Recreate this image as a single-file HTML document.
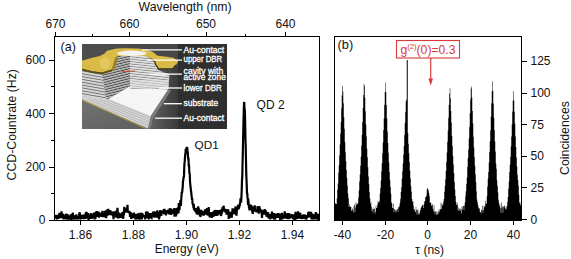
<!DOCTYPE html>
<html><head><meta charset="utf-8">
<style>
html,body{margin:0;padding:0;background:#fff;width:571px;height:259px;overflow:hidden}
svg{display:block}
text{font-family:"Liberation Sans",sans-serif;fill:#111}
</style></head>
<body>
<svg width="571" height="259" viewBox="0 0 571 259">
<defs>
  <clipPath id="insetclip"><rect x="82" y="44" width="145" height="85"/></clipPath>
  <clipPath id="lclip"><rect x="55" y="37" width="264" height="183"/></clipPath>
  <clipPath id="rclip"><rect x="335" y="37" width="186" height="183"/></clipPath>
  <linearGradient id="floorg" x1="0" y1="0" x2="1" y2="1">
    <stop offset="0" stop-color="#727272"/><stop offset="1" stop-color="#5e5e5e"/>
  </linearGradient>
  <linearGradient id="topbg" x1="0" y1="0" x2="1" y2="0">
    <stop offset="0" stop-color="#4e4e4e"/><stop offset="1" stop-color="#424242"/>
  </linearGradient>
  <pattern id="stripeL" width="6" height="2.8" patternUnits="userSpaceOnUse" patternTransform="rotate(10)">
    <rect width="6" height="2.8" fill="#d6d6d6"/><rect y="1.9" width="6" height="0.9" fill="#707070"/>
  </pattern>
  <pattern id="stripeD" width="6" height="2.4" patternUnits="userSpaceOnUse" patternTransform="rotate(-14)">
    <rect width="6" height="2.4" fill="#c4c4c4"/><rect y="1.4" width="6" height="1" fill="#484848"/>
  </pattern>
  <linearGradient id="rshade" x1="0" y1="0" x2="1" y2="0">
    <stop offset="0" stop-color="#666666"/><stop offset="1" stop-color="#3a3a3a"/>
  </linearGradient>
  <pattern id="stripeF" width="6" height="2.2" patternUnits="userSpaceOnUse" patternTransform="rotate(22)">
    <rect width="6" height="2.2" fill="#d6d6d6"/><rect y="1.4" width="6" height="0.8" fill="#b4b4b4"/>
  </pattern>
  <pattern id="stripeW" width="6" height="2.4" patternUnits="userSpaceOnUse" patternTransform="rotate(6)">
    <rect width="6" height="2.4" fill="#e8e8e8"/><rect y="1.5" width="6" height="0.9" fill="#8a8a8a"/>
  </pattern>
</defs>

<!-- ===== LEFT PLOT ===== -->
<g clip-path="url(#lclip)">
  <polyline points="55.00,217.2 55.25,217.9 55.50,216.5 55.75,215.1 56.00,216.1 56.25,214.9 56.50,217.3 56.75,219.5 57.00,216.0 57.25,215.7 57.50,218.3 57.75,218.0 58.00,217.4 58.25,215.0 58.50,217.1 58.75,218.8 59.00,214.1 59.25,216.1 59.50,212.8 59.75,214.2 60.00,212.9 60.25,216.6 60.50,214.2 60.75,217.8 61.00,217.5 61.25,216.7 61.50,211.4 61.75,215.9 62.00,217.0 62.25,217.4 62.50,213.6 62.75,216.1 63.00,214.9 63.25,215.3 63.50,219.5 63.75,215.3 64.00,217.1 64.25,219.2 64.50,215.8 64.75,216.9 65.00,217.4 65.25,217.3 65.50,214.3 65.75,217.3 66.00,219.5 66.25,213.6 66.50,219.1 66.75,217.4 67.00,215.7 67.25,219.5 67.50,218.9 67.75,214.4 68.00,217.3 68.25,218.5 68.50,216.7 68.75,218.7 69.00,217.0 69.25,218.7 69.50,219.5 69.75,215.6 70.00,217.6 70.25,216.1 70.50,217.4 70.75,214.4 71.00,215.8 71.25,216.7 71.50,219.2 71.75,219.5 72.00,214.1 72.25,215.3 72.50,218.6 72.75,212.5 73.00,216.1 73.25,216.9 73.50,219.5 73.75,218.7 74.00,216.4 74.25,216.3 74.50,216.5 74.75,219.5 75.00,216.1 75.25,216.4 75.50,217.9 75.75,216.8 76.00,216.6 76.25,214.5 76.50,217.1 76.75,216.1 77.00,219.5 77.25,218.6 77.50,217.0 77.75,218.6 78.00,216.3 78.25,219.5 78.50,217.1 78.75,218.4 79.00,214.1 79.25,217.9 79.50,213.2 79.75,212.4 80.00,216.3 80.25,215.0 80.50,217.4 80.75,219.5 81.00,215.1 81.25,215.6 81.50,217.5 81.75,218.1 82.00,216.6 82.25,216.5 82.50,218.6 82.75,218.2 83.00,214.6 83.25,216.8 83.50,217.0 83.75,214.5 84.00,217.5 84.25,214.9 84.50,219.1 84.75,217.3 85.00,217.1 85.25,215.5 85.50,216.6 85.75,212.2 86.00,214.2 86.25,217.6 86.50,211.9 86.75,218.7 87.00,212.7 87.25,218.4 87.50,214.7 87.75,218.4 88.00,216.9 88.25,213.1 88.50,219.4 88.75,219.5 89.00,216.4 89.25,215.8 89.50,216.1 89.75,214.2 90.00,218.9 90.25,215.1 90.50,216.2 90.75,214.4 91.00,214.8 91.25,213.3 91.50,219.0 91.75,215.8 92.00,218.3 92.25,216.1 92.50,214.4 92.75,215.2 93.00,214.6 93.25,215.9 93.50,214.9 93.75,215.1 94.00,212.5 94.25,213.8 94.50,219.4 94.75,214.0 95.00,213.1 95.25,216.2 95.50,218.6 95.75,212.0 96.00,214.8 96.25,213.8 96.50,211.1 96.75,216.8 97.00,215.0 97.25,215.2 97.50,213.2 97.75,215.9 98.00,213.6 98.25,214.4 98.50,212.2 98.75,211.9 99.00,217.7 99.25,213.4 99.50,215.2 99.75,214.4 100.00,213.4 100.25,213.2 100.50,215.7 100.75,213.6 101.00,213.9 101.25,214.2 101.50,216.8 101.75,215.6 102.00,214.9 102.25,212.7 102.50,210.8 102.75,216.1 103.00,216.1 103.25,213.5 103.50,215.1 103.75,215.6 104.00,215.7 104.25,215.9 104.50,212.7 104.75,217.2 105.00,210.9 105.25,215.7 105.50,214.8 105.75,215.7 106.00,218.0 106.25,217.1 106.50,211.1 106.75,209.8 107.00,215.6 107.25,211.4 107.50,213.7 107.75,215.7 108.00,210.0 108.25,208.9 108.50,214.4 108.75,213.9 109.00,213.3 109.25,213.9 109.50,211.9 109.75,210.4 110.00,213.6 110.25,211.7 110.50,210.2 110.75,215.2 111.00,213.9 111.25,215.1 111.50,211.9 111.75,212.7 112.00,211.9 112.25,212.2 112.50,214.8 112.75,212.6 113.00,215.2 113.25,215.3 113.50,219.2 113.75,211.4 114.00,216.7 114.25,214.5 114.50,214.7 114.75,211.4 115.00,213.8 115.25,216.6 115.50,214.7 115.75,215.2 116.00,214.3 116.25,217.7 116.50,215.1 116.75,210.1 117.00,213.6 117.25,210.7 117.50,207.8 117.75,214.1 118.00,218.5 118.25,215.5 118.50,212.8 118.75,213.3 119.00,218.1 119.25,215.9 119.50,215.7 119.75,215.5 120.00,215.8 120.25,217.5 120.50,217.0 120.75,216.2 121.00,213.3 121.25,216.8 121.50,214.0 121.75,218.0 122.00,212.5 122.25,214.9 122.50,215.1 122.75,211.8 123.00,218.6 123.25,217.7 123.50,212.9 123.75,215.4 124.00,214.1 124.25,206.7 124.50,212.8 124.75,211.6 125.00,211.4 125.25,208.3 125.50,209.7 125.75,209.5 126.00,212.2 126.25,210.0 126.50,209.0 126.75,212.4 127.00,207.5 127.25,208.0 127.50,204.8 127.75,212.8 128.00,211.8 128.25,212.0 128.50,211.9 128.75,211.1 129.00,211.9 129.25,211.3 129.50,211.9 129.75,213.0 130.00,216.9 130.25,215.1 130.50,214.1 130.75,213.2 131.00,213.4 131.25,218.9 131.50,216.6 131.75,215.7 132.00,215.0 132.25,213.3 132.50,215.8 132.75,218.1 133.00,215.2 133.25,215.6 133.50,215.7 133.75,216.5 134.00,212.6 134.25,215.7 134.50,214.3 134.75,218.3 135.00,214.5 135.25,217.6 135.50,219.5 135.75,215.5 136.00,214.8 136.25,216.7 136.50,216.2 136.75,213.9 137.00,217.3 137.25,219.5 137.50,215.6 137.75,215.7 138.00,213.8 138.25,216.9 138.50,213.3 138.75,213.6 139.00,219.1 139.25,214.0 139.50,218.6 139.75,219.5 140.00,216.7 140.25,217.4 140.50,219.5 140.75,215.6 141.00,214.7 141.25,212.9 141.50,216.1 141.75,219.4 142.00,218.2 142.25,213.9 142.50,214.0 142.75,214.8 143.00,216.7 143.25,215.5 143.50,216.5 143.75,216.6 144.00,215.3 144.25,215.8 144.50,216.4 144.75,215.7 145.00,217.1 145.25,219.5 145.50,217.3 145.75,216.0 146.00,212.0 146.25,216.8 146.50,211.4 146.75,212.6 147.00,217.8 147.25,217.4 147.50,215.5 147.75,211.9 148.00,214.9 148.25,214.2 148.50,217.2 148.75,219.5 149.00,216.2 149.25,213.9 149.50,213.0 149.75,215.6 150.00,215.3 150.25,213.0 150.50,215.9 150.75,213.0 151.00,218.2 151.25,218.0 151.50,218.1 151.75,214.5 152.00,216.7 152.25,215.2 152.50,214.6 152.75,214.7 153.00,212.5 153.25,212.1 153.50,217.2 153.75,214.9 154.00,215.8 154.25,217.6 154.50,211.3 154.75,213.4 155.00,215.6 155.25,216.1 155.50,214.3 155.75,217.4 156.00,215.5 156.25,212.2 156.50,212.8 156.75,216.7 157.00,215.9 157.25,210.4 157.50,217.8 157.75,216.0 158.00,217.6 158.25,213.6 158.50,213.7 158.75,211.7 159.00,219.5 159.25,213.8 159.50,217.7 159.75,212.5 160.00,214.3 160.25,210.0 160.50,212.8 160.75,215.9 161.00,210.6 161.25,215.9 161.50,214.1 161.75,210.8 162.00,212.0 162.25,212.0 162.50,212.9 162.75,211.6 163.00,210.9 163.25,212.0 163.50,210.3 163.75,209.6 164.00,212.4 164.25,214.4 164.50,208.8 164.75,212.3 165.00,210.8 165.25,210.0 165.50,214.1 165.75,210.9 166.00,215.5 166.25,210.3 166.50,212.9 166.75,211.5 167.00,210.3 167.25,213.4 167.50,211.7 167.75,213.4 168.00,211.9 168.25,209.6 168.50,211.9 168.75,212.2 169.00,214.3 169.25,210.1 169.50,212.1 169.75,208.3 170.00,213.8 170.25,209.8 170.50,208.2 170.75,212.2 171.00,214.9 171.25,208.9 171.50,209.9 171.75,210.7 172.00,209.9 172.25,213.4 172.50,210.7 172.75,210.9 173.00,213.9 173.25,210.8 173.50,213.5 173.75,210.3 174.00,209.7 174.25,208.2 174.50,216.7 174.75,211.6 175.00,212.9 175.25,212.2 175.50,212.6 175.75,212.2 176.00,216.4 176.25,209.5 176.50,208.2 176.75,209.3 177.00,208.4 177.25,213.1 177.50,213.0 177.75,208.7 178.00,207.4 178.25,209.5 178.50,213.1 178.75,203.0 179.00,210.2 179.25,205.9 179.50,210.2 179.75,204.5 180.00,205.5 180.25,201.7 180.50,201.8 180.75,206.0 181.00,203.2 181.25,198.8 181.50,196.0 181.75,191.7 182.00,193.0 182.25,191.6 182.50,188.9 182.75,186.3 183.00,181.1 183.25,180.5 183.50,177.5 183.75,177.4 184.00,175.4 184.25,167.6 184.50,162.9 184.75,161.4 185.00,157.1 185.25,154.1 185.50,153.2 185.75,148.9 186.00,151.1 186.25,148.4 186.50,148.7 186.75,147.7 187.00,147.1 187.25,147.8 187.50,151.1 187.75,152.5 188.00,156.8 188.25,159.0 188.50,158.9 188.75,165.3 189.00,165.3 189.25,170.2 189.50,174.2 189.75,173.2 190.00,181.3 190.25,184.3 190.50,186.4 190.75,188.4 191.00,191.0 191.25,191.9 191.50,195.6 191.75,196.8 192.00,200.0 192.25,198.5 192.50,203.2 192.75,204.2 193.00,204.7 193.25,204.9 193.50,208.1 193.75,203.7 194.00,209.2 194.25,209.3 194.50,209.8 194.75,210.5 195.00,208.5 195.25,209.7 195.50,212.0 195.75,211.8 196.00,211.5 196.25,207.7 196.50,212.6 196.75,214.2 197.00,213.9 197.25,212.3 197.50,208.3 197.75,214.1 198.00,211.7 198.25,206.3 198.50,213.1 198.75,208.8 199.00,209.4 199.25,210.9 199.50,215.4 199.75,211.7 200.00,213.2 200.25,216.7 200.50,216.3 200.75,212.5 201.00,212.2 201.25,209.9 201.50,211.2 201.75,213.9 202.00,213.8 202.25,213.2 202.50,215.3 202.75,211.2 203.00,212.9 203.25,214.7 203.50,214.4 203.75,215.6 204.00,214.1 204.25,212.5 204.50,214.0 204.75,210.9 205.00,209.5 205.25,214.6 205.50,213.1 205.75,214.0 206.00,209.4 206.25,212.5 206.50,211.9 206.75,211.4 207.00,208.2 207.25,212.6 207.50,215.4 207.75,214.3 208.00,212.0 208.25,213.4 208.50,215.2 208.75,207.1 209.00,213.2 209.25,214.7 209.50,215.0 209.75,217.4 210.00,216.1 210.25,214.2 210.50,214.2 210.75,215.3 211.00,212.3 211.25,213.4 211.50,215.6 211.75,218.0 212.00,213.2 212.25,213.4 212.50,214.0 212.75,216.6 213.00,213.5 213.25,216.9 213.50,211.3 213.75,213.1 214.00,213.1 214.25,215.4 214.50,216.0 214.75,210.1 215.00,211.5 215.25,214.3 215.50,212.0 215.75,210.0 216.00,215.9 216.25,214.6 216.50,214.6 216.75,212.4 217.00,215.8 217.25,212.8 217.50,215.8 217.75,211.1 218.00,211.1 218.25,213.4 218.50,211.2 218.75,214.2 219.00,213.1 219.25,210.2 219.50,212.3 219.75,211.1 220.00,213.8 220.25,210.0 220.50,210.2 220.75,213.7 221.00,215.9 221.25,215.1 221.50,210.4 221.75,210.6 222.00,213.5 222.25,209.5 222.50,207.4 222.75,209.9 223.00,210.6 223.25,207.7 223.50,205.9 223.75,206.5 224.00,211.4 224.25,208.3 224.50,209.9 224.75,210.9 225.00,212.1 225.25,210.1 225.50,212.3 225.75,209.3 226.00,210.7 226.25,209.4 226.50,214.6 226.75,212.1 227.00,210.7 227.25,211.7 227.50,212.1 227.75,214.4 228.00,209.2 228.25,210.6 228.50,212.1 228.75,218.9 229.00,215.3 229.25,212.9 229.50,214.8 229.75,217.9 230.00,212.6 230.25,212.3 230.50,215.9 230.75,214.2 231.00,214.6 231.25,211.9 231.50,217.4 231.75,216.9 232.00,214.2 232.25,214.4 232.50,208.2 232.75,214.2 233.00,212.2 233.25,213.6 233.50,214.1 233.75,211.7 234.00,208.5 234.25,213.2 234.50,210.5 234.75,211.3 235.00,210.6 235.25,211.1 235.50,206.4 235.75,214.4 236.00,212.0 236.25,213.8 236.50,215.6 236.75,210.9 237.00,206.5 237.25,208.3 237.50,207.3 237.75,208.6 238.00,209.6 238.25,204.5 238.50,209.4 238.75,204.7 239.00,208.3 239.25,206.8 239.50,205.6 239.75,205.4 240.00,203.3 240.25,202.1 240.50,198.3 240.75,200.4 241.00,202.6 241.25,200.2 241.50,195.1 241.75,189.1 242.00,180.1 242.25,177.7 242.50,165.5 242.75,155.3 243.00,143.6 243.25,132.9 243.50,120.6 243.75,112.1 244.00,103.2 244.25,102.0 244.50,109.4 244.75,109.1 245.00,117.1 245.25,129.4 245.50,141.3 245.75,148.6 246.00,161.3 246.25,173.3 246.50,179.7 246.75,185.7 247.00,194.1 247.25,192.9 247.50,197.6 247.75,198.6 248.00,205.0 248.25,198.6 248.50,202.7 248.75,204.0 249.00,207.5 249.25,208.1 249.50,210.5 249.75,204.2 250.00,210.0 250.25,208.0 250.50,207.5 250.75,210.5 251.00,207.4 251.25,204.9 251.50,209.0 251.75,206.5 252.00,208.6 252.25,211.0 252.50,210.9 252.75,213.9 253.00,209.8 253.25,206.7 253.50,208.5 253.75,208.1 254.00,207.4 254.25,211.1 254.50,208.6 254.75,205.4 255.00,211.5 255.25,209.6 255.50,210.6 255.75,210.0 256.00,211.1 256.25,209.7 256.50,212.4 256.75,210.6 257.00,210.5 257.25,210.5 257.50,206.2 257.75,209.2 258.00,209.1 258.25,210.2 258.50,206.7 258.75,213.6 259.00,210.2 259.25,207.3 259.50,206.3 259.75,209.7 260.00,210.3 260.25,209.0 260.50,211.1 260.75,209.6 261.00,212.5 261.25,209.8 261.50,211.6 261.75,214.1 262.00,218.0 262.25,209.9 262.50,211.4 262.75,210.7 263.00,214.6 263.25,210.4 263.50,212.1 263.75,213.3 264.00,211.3 264.25,211.5 264.50,212.7 264.75,209.1 265.00,210.8 265.25,213.3 265.50,214.7 265.75,214.0 266.00,210.5 266.25,213.6 266.50,216.6 266.75,216.1 267.00,214.7 267.25,212.9 267.50,216.4 267.75,213.7 268.00,212.4 268.25,213.3 268.50,218.5 268.75,215.7 269.00,217.9 269.25,214.2 269.50,217.5 269.75,214.0 270.00,215.0 270.25,219.5 270.50,217.2 270.75,214.3 271.00,215.3 271.25,216.2 271.50,218.3 271.75,214.4 272.00,211.5 272.25,214.9 272.50,215.6 272.75,215.8 273.00,218.6 273.25,216.3 273.50,217.5 273.75,213.1 274.00,217.6 274.25,219.5 274.50,217.4 274.75,216.3 275.00,216.0 275.25,219.5 275.50,213.6 275.75,215.5 276.00,216.8 276.25,217.5 276.50,214.7 276.75,216.5 277.00,215.1 277.25,216.1 277.50,215.5 277.75,213.2 278.00,215.8 278.25,217.8 278.50,213.6 278.75,215.3 279.00,217.4 279.25,213.4 279.50,216.3 279.75,213.5 280.00,218.5 280.25,219.5 280.50,219.5 280.75,215.4 281.00,217.6 281.25,216.2 281.50,216.2 281.75,219.5 282.00,212.9 282.25,218.4 282.50,215.9 282.75,219.2 283.00,216.4 283.25,214.5 283.50,216.7 283.75,217.7 284.00,216.1 284.25,217.2 284.50,214.9 284.75,211.2 285.00,218.1 285.25,217.7 285.50,216.4 285.75,216.3 286.00,218.5 286.25,215.1 286.50,214.5 286.75,215.7 287.00,218.9 287.25,213.0 287.50,218.9 287.75,214.7 288.00,213.6 288.25,219.1 288.50,216.0 288.75,213.2 289.00,215.4 289.25,218.3 289.50,218.9 289.75,215.2 290.00,217.2 290.25,217.9 290.50,214.8 290.75,217.1 291.00,216.2 291.25,215.0 291.50,215.1 291.75,216.4 292.00,216.3 292.25,215.0 292.50,215.3 292.75,218.9 293.00,216.8 293.25,218.3 293.50,219.1 293.75,217.7 294.00,219.5 294.25,214.4 294.50,218.2 294.75,215.6 295.00,219.5 295.25,219.5 295.50,211.9 295.75,214.1 296.00,217.9 296.25,218.2 296.50,218.1 296.75,216.2 297.00,217.4 297.25,217.9 297.50,216.2 297.75,218.8 298.00,211.2 298.25,217.9 298.50,214.0 298.75,218.6 299.00,215.9 299.25,214.4 299.50,217.3 299.75,214.3 300.00,214.3 300.25,212.8 300.50,216.4 300.75,217.6 301.00,218.8 301.25,216.1 301.50,218.9 301.75,216.5 302.00,216.3 302.25,217.8 302.50,218.9 302.75,215.7 303.00,215.9 303.25,216.1 303.50,216.7 303.75,214.4 304.00,218.9 304.25,215.6 304.50,217.6 304.75,214.6 305.00,217.4 305.25,217.4 305.50,215.6 305.75,219.5 306.00,217.4 306.25,219.5 306.50,218.8 306.75,215.0 307.00,215.7 307.25,217.6 307.50,216.7 307.75,216.7 308.00,215.9 308.25,212.4 308.50,216.1 308.75,211.5 309.00,217.4 309.25,214.9 309.50,214.9 309.75,216.1 310.00,217.2 310.25,213.3 310.50,212.6 310.75,214.2 311.00,211.9 311.25,214.4 311.50,219.5 311.75,214.2 312.00,218.1 312.25,213.5 312.50,217.3 312.75,215.9 313.00,216.5 313.25,217.9 313.50,219.5 313.75,217.1 314.00,216.9 314.25,214.4 314.50,218.0 314.75,216.1 315.00,218.6 315.25,216.6 315.50,219.5 315.75,212.1 316.00,216.0 316.25,218.7 316.50,215.9 316.75,214.9 317.00,216.1 317.25,213.5 317.50,217.0 317.75,219.5 318.00,219.3 318.25,214.1 318.50,214.7 318.75,215.8 319.00,219.0" fill="none" stroke="#000" stroke-width="2.2" stroke-linejoin="miter" stroke-miterlimit="2"/>
</g>

<!-- inset -->
<g clip-path="url(#insetclip)">
  <rect x="82" y="44" width="145" height="85" fill="url(#topbg)"/>
  <!-- floor -->
  <polygon points="82,99.8 146,128.5 152,129 82,129" fill="url(#floorg)"/>
  <!-- right shadow face of block -->
  <polygon points="160,66 165,85 168,91 149,116.2 146,128.5 152,129 178,129 178,66" fill="url(#rshade)"/>
  <!-- left face (pillar+block) -->
  <polygon points="82,69.8 102.2,73.5 108,99 150.7,116.2 148,128.5 82,99.8" fill="#d2d2d2"/>
  <polygon points="82,69.8 102.2,73.5 106,98.5 82,96" fill="url(#stripeL)"/>
  <polygon points="82,99.8 148,128.5 150.7,116.2 108,99" fill="url(#stripeF)"/>
  <!-- white floor -->
  <polygon points="108,99 130,86 130,88.5 168.4,89.3 150.7,116.2" fill="#f6f6f6"/>
  <polygon points="168.4,89.3 171,90.5 153,118.5 150.5,128.7 148,128.5 150.7,116.2" fill="#7c7c7c"/>
  <!-- dark striped face -->
  <polygon points="102.2,73.5 112,70 114,62 116,56 130,56 130,86 108,99 106,98.5" fill="url(#stripeD)"/>
  <!-- light cut face -->
  <polygon points="130,56 147,56 150,58.5 154,62 156,66 158,69.8 163,72 169.5,74.5 168.4,89.3 130,88.5" fill="url(#stripeW)"/>
  <rect x="130" y="80" width="38.5" height="8.5" fill="#dedede" opacity="0.6"/>
  <line x1="122" y1="71.5" x2="135" y2="71" stroke="#c8502a" stroke-width="1"/>
  <!-- gold contact -->
  <polygon points="82,60.8 92.3,57.7 99.8,55.9 104.7,53.4 106.5,50.9 110.9,49.7 117,48.5 125,48.2 138,48.6 146,49.6 152,51.6 155.5,54 157.5,55.8 165,56.6 173.3,57.8 178.3,61.2 176,65 172.5,68.7 158.5,68.7 155.5,64 154,60 150,58 147,56.5 145,56 131,56 118,56 115.8,57.1 114,62 112,69.5 102.2,72.5 92.3,71.3 82,68.8" fill="#dbbb48"/>
  <ellipse cx="105" cy="63" rx="5.5" ry="6" fill="#e8d070" opacity="0.6"/>
  <polygon points="102.2,72.5 112,69.5 114,62 115.8,57.1 118,57 116.5,63 114,70.5 104,73.5" fill="#9c8028"/>
  <polygon points="82,70.6 92.3,73 102.2,74.3 112,71.2 112,69.5 102.2,72.5 92.3,71.3 82,68.8" fill="#5a4c1c"/>
  <polyline points="154.5,60.5 155.5,64 158.5,68.7 172.5,68.7 176,65" fill="none" stroke="#3a3418" stroke-width="1.1"/>
  <ellipse cx="131.8" cy="53.3" rx="14.8" ry="2.7" fill="#f2f2f2"/>
  <!-- gold bottom line -->
  <line x1="82" y1="99.8" x2="146" y2="128.5" stroke="#b89a3a" stroke-width="1"/>
  <!-- label panel -->
  <rect x="178" y="44" width="49" height="85" fill="#2f2f2f"/>
  <!-- leader lines -->
  <g stroke="#fff" stroke-width="1.3">
    <line x1="142" y1="49.8" x2="182" y2="49.8"/>
    <line x1="147" y1="60.2" x2="182" y2="60.2"/>
    <line x1="148.7" y1="74.1" x2="182" y2="74.1"/>
    <line x1="159" y1="88" x2="182" y2="88"/>
    <line x1="163.7" y1="103.7" x2="182" y2="103.7"/>
    <line x1="155" y1="118.2" x2="182" y2="118.2"/>
  </g>
  <g style="font-size:8.6px;font-weight:normal">
    <text x="183.6" y="52.6" textLength="40.6" lengthAdjust="spacingAndGlyphs" style="fill:#fff;stroke:#fff;stroke-width:0.3">Au-contact</text>
    <text x="183.6" y="62.4" textLength="38.6" lengthAdjust="spacingAndGlyphs" style="fill:#fff;stroke:#fff;stroke-width:0.3">upper DBR</text>
    <text x="183.6" y="74.3" textLength="39.6" lengthAdjust="spacingAndGlyphs" style="fill:#fff;stroke:#fff;stroke-width:0.3">cavity with</text>
    <text x="183.6" y="79.8" textLength="42.2" lengthAdjust="spacingAndGlyphs" style="fill:#fff;stroke:#fff;stroke-width:0.3">active zone</text>
    <text x="183.6" y="90.6" textLength="38.2" lengthAdjust="spacingAndGlyphs" style="fill:#fff;stroke:#fff;stroke-width:0.3">lower DBR</text>
    <text x="183.6" y="106.4" textLength="34.5" lengthAdjust="spacingAndGlyphs" style="fill:#fff;stroke:#fff;stroke-width:0.3">substrate</text>
    <text x="183.6" y="121.2" textLength="40.6" lengthAdjust="spacingAndGlyphs" style="fill:#fff;stroke:#fff;stroke-width:0.3">Au-contact</text>
  </g>
</g>

<!-- left frame -->
<g fill="none" stroke="#000" stroke-width="1" shape-rendering="crispEdges">
  <rect x="54.5" y="36.5" width="265" height="184"/>
  <!-- y ticks -->
  <path d="M49 220.5H54 M49 167.5H54 M49 113.5H54 M49 60.5H54 M51 193.5H54 M51 140.5H54 M51 86.5H54"/>
  <!-- bottom ticks -->
  <path d="M80.5 221V225 M133.5 221V225 M186.5 221V225 M239.5 221V225 M292.5 221V225"/>
  <!-- top ticks -->
  <path d="M55.5 32V36 M129.5 32V36 M206.5 32V36 M285.5 32V36 M92.5 34V36 M167.5 34V36 M245.5 34V36"/>
</g>
<g style="font-size:12px">
  <text x="45.5" y="224.2" text-anchor="end">0</text>
  <text x="45.5" y="171" text-anchor="end">200</text>
  <text x="45.5" y="117.5" text-anchor="end">400</text>
  <text x="45.5" y="64.2" text-anchor="end">600</text>
  <text x="80.5" y="238.5" text-anchor="middle">1.86</text>
  <text x="133.5" y="238.5" text-anchor="middle">1.88</text>
  <text x="186.5" y="238.5" text-anchor="middle">1.90</text>
  <text x="239.5" y="238.5" text-anchor="middle">1.92</text>
  <text x="292.5" y="238.5" text-anchor="middle">1.94</text>
  <text x="55.5" y="27.5" text-anchor="middle">670</text>
  <text x="129.5" y="27.5" text-anchor="middle">660</text>
  <text x="206" y="27.5" text-anchor="middle">650</text>
  <text x="285.5" y="27.5" text-anchor="middle">640</text>
</g>
<g style="font-size:12px">
  <text x="186.7" y="252.6" text-anchor="middle">Energy (eV)</text>
  <text x="185.1" y="10.6" text-anchor="middle" style="font-size:12.3px">Wavelength (nm)</text>
  <text transform="translate(15.8,124.8) rotate(-90)" text-anchor="middle" style="font-size:12.3px">CCD-Countrate (Hz)</text>
  <text x="60.6" y="50.6" style="font-size:12.6px">(a)</text>
  <text x="194.6" y="148.8" style="font-size:11.8px">QD1</text>
  <text x="256.6" y="108.9">QD 2</text>
</g>

<!-- ===== RIGHT PLOT ===== -->
<g clip-path="url(#rclip)">
  <polygon points="334.00,220.0 333.75,209.7 334.25,209.7 334.25,208.4 334.75,208.4 334.75,204.2 335.25,204.2 335.25,203.1 335.75,203.1 335.75,204.1 336.25,204.1 336.25,203.9 336.75,203.9 336.75,198.4 337.25,198.4 337.25,189.7 337.75,189.7 337.75,183.6 338.25,183.6 338.25,172.7 338.75,172.7 338.75,165.2 339.25,165.2 339.25,155.3 339.75,155.3 339.75,144.5 340.25,144.5 340.25,133.6 340.75,133.6 340.75,122.1 341.25,122.1 341.25,108.2 341.75,108.2 341.75,95.4 342.25,95.4 342.25,85.7 342.75,85.7 342.75,91.5 343.25,91.5 343.25,103.2 343.75,103.2 343.75,117.0 344.25,117.0 344.25,128.7 344.75,128.7 344.75,142.1 345.25,142.1 345.25,152.2 345.75,152.2 345.75,161.3 346.25,161.3 346.25,170.1 346.75,170.1 346.75,178.0 347.25,178.0 347.25,185.5 347.75,185.5 347.75,193.5 348.25,193.5 348.25,198.3 348.75,198.3 348.75,206.8 349.25,206.8 349.25,204.3 349.75,204.3 349.75,206.9 350.25,206.9 350.25,206.3 350.75,206.3 350.75,207.1 351.25,207.1 351.25,210.4 351.75,210.4 351.75,210.7 352.25,210.7 352.25,208.2 352.75,208.2 352.75,209.8 353.25,209.8 353.25,212.5 353.75,212.5 353.75,205.7 354.25,205.7 354.25,204.5 354.75,204.5 354.75,212.1 355.25,212.1 355.25,207.4 355.75,207.4 355.75,201.9 356.25,201.9 356.25,204.5 356.75,204.5 356.75,204.5 357.25,204.5 357.25,204.0 357.75,204.0 357.75,203.1 358.25,203.1 358.25,197.5 358.75,197.5 358.75,190.5 359.25,190.5 359.25,181.4 359.75,181.4 359.75,174.4 360.25,174.4 360.25,165.7 360.75,165.7 360.75,156.8 361.25,156.8 361.25,145.8 361.75,145.8 361.75,134.8 362.25,134.8 362.25,122.0 362.75,122.0 362.75,108.1 363.25,108.1 363.25,95.0 363.75,95.0 363.75,83.8 364.25,83.8 364.25,85.8 364.75,85.8 364.75,97.6 365.25,97.6 365.25,111.2 365.75,111.2 365.75,124.6 366.25,124.6 366.25,136.5 366.75,136.5 366.75,148.5 367.25,148.5 367.25,157.2 367.75,157.2 367.75,167.2 368.25,167.2 368.25,176.4 368.75,176.4 368.75,184.2 369.25,184.2 369.25,192.2 369.75,192.2 369.75,198.4 370.25,198.4 370.25,203.7 370.75,203.7 370.75,201.7 371.25,201.7 371.25,206.7 371.75,206.7 371.75,210.9 372.25,210.9 372.25,208.8 372.75,208.8 372.75,212.5 373.25,212.5 373.25,209.1 373.75,209.1 373.75,207.4 374.25,207.4 374.25,209.0 374.75,209.0 374.75,213.8 375.25,213.8 375.25,211.8 375.75,211.8 375.75,205.4 376.25,205.4 376.25,207.9 376.75,207.9 376.75,207.7 377.25,207.7 377.25,204.6 377.75,204.6 377.75,200.8 378.25,200.8 378.25,202.0 378.75,202.0 378.75,202.9 379.25,202.9 379.25,200.9 379.75,200.9 379.75,193.6 380.25,193.6 380.25,187.9 380.75,187.9 380.75,180.5 381.25,180.5 381.25,171.3 381.75,171.3 381.75,163.2 382.25,163.2 382.25,153.1 382.75,153.1 382.75,142.5 383.25,142.5 383.25,130.0 383.75,130.0 383.75,118.5 384.25,118.5 384.25,104.8 384.75,104.8 384.75,92.3 385.25,92.3 385.25,82.6 385.75,82.6 385.75,92.0 386.25,92.0 386.25,105.0 386.75,105.0 386.75,118.5 387.25,118.5 387.25,131.6 387.75,131.6 387.75,143.0 388.25,143.0 388.25,152.8 388.75,152.8 388.75,162.5 389.25,162.5 389.25,172.1 389.75,172.1 389.75,179.8 390.25,179.8 390.25,187.1 390.75,187.1 390.75,193.8 391.25,193.8 391.25,202.6 391.75,202.6 391.75,203.6 392.25,203.6 392.25,208.0 392.75,208.0 392.75,208.0 393.25,208.0 393.25,203.4 393.75,203.4 393.75,212.3 394.25,212.3 394.25,209.3 394.75,209.3 394.75,208.9 395.25,208.9 395.25,211.0 395.75,211.0 395.75,212.6 396.25,212.6 396.25,210.2 396.75,210.2 396.75,209.4 397.25,209.4 397.25,208.8 397.75,208.8 397.75,211.7 398.25,211.7 398.25,207.1 398.75,207.1 398.75,207.4 399.25,207.4 399.25,205.5 399.75,205.5 399.75,202.7 400.25,202.7 400.25,198.7 400.75,198.7 400.75,192.1 401.25,192.1 401.25,187.3 401.75,187.3 401.75,178.8 402.25,178.8 402.25,171.3 402.75,171.3 402.75,163.5 403.25,163.5 403.25,154.7 403.75,154.7 403.75,145.9 404.25,145.9 404.25,135.1 404.75,135.1 404.75,123.1 405.25,123.1 405.25,112.1 405.75,112.1 405.75,101.2 406.25,101.2 406.25,99.7 406.75,99.7 406.75,60.0 407.25,60.0 407.25,60.0 407.75,60.0 407.75,133.2 408.25,133.2 408.25,143.8 408.75,143.8 408.75,153.2 409.25,153.2 409.25,161.9 409.75,161.9 409.75,170.8 410.25,170.8 410.25,178.5 410.75,178.5 410.75,186.3 411.25,186.3 411.25,191.5 411.75,191.5 411.75,198.9 412.25,198.9 412.25,201.7 412.75,201.7 412.75,200.9 413.25,200.9 413.25,205.5 413.75,205.5 413.75,209.6 414.25,209.6 414.25,209.3 414.75,209.3 414.75,211.6 415.25,211.6 415.25,211.9 415.75,211.9 415.75,207.0 416.25,207.0 416.25,210.1 416.75,210.1 416.75,214.8 417.25,214.8 417.25,210.2 417.75,210.2 417.75,209.2 418.25,209.2 418.25,213.6 418.75,213.6 418.75,214.7 419.25,214.7 419.25,213.3 419.75,213.3 419.75,211.2 420.25,211.2 420.25,209.7 420.75,209.7 420.75,207.7 421.25,207.7 421.25,206.8 421.75,206.8 421.75,206.0 422.25,206.0 422.25,204.7 422.75,204.7 422.75,205.0 423.25,205.0 423.25,208.1 423.75,208.1 423.75,204.0 424.25,204.0 424.25,201.6 424.75,201.6 424.75,201.1 425.25,201.1 425.25,197.1 425.75,197.1 425.75,197.0 426.25,197.0 426.25,195.4 426.75,195.4 426.75,189.6 427.25,189.6 427.25,187.9 427.75,187.9 427.75,189.0 428.25,189.0 428.25,190.8 428.75,190.8 428.75,193.1 429.25,193.1 429.25,196.3 429.75,196.3 429.75,203.0 430.25,203.0 430.25,202.0 430.75,202.0 430.75,203.3 431.25,203.3 431.25,205.9 431.75,205.9 431.75,205.0 432.25,205.0 432.25,204.2 432.75,204.2 432.75,208.8 433.25,208.8 433.25,211.3 433.75,211.3 433.75,205.2 434.25,205.2 434.25,211.6 434.75,211.6 434.75,214.2 435.25,214.2 435.25,211.4 435.75,211.4 435.75,211.6 436.25,211.6 436.25,214.9 436.75,214.9 436.75,211.3 437.25,211.3 437.25,214.0 437.75,214.0 437.75,214.6 438.25,214.6 438.25,211.4 438.75,211.4 438.75,209.5 439.25,209.5 439.25,212.2 439.75,212.2 439.75,209.3 440.25,209.3 440.25,209.5 440.75,209.5 440.75,202.4 441.25,202.4 441.25,209.1 441.75,209.1 441.75,203.8 442.25,203.8 442.25,205.7 442.75,205.7 442.75,204.6 443.25,204.6 443.25,201.6 443.75,201.6 443.75,198.9 444.25,198.9 444.25,191.7 444.75,191.7 444.75,185.9 445.25,185.9 445.25,179.3 445.75,179.3 445.75,171.1 446.25,171.1 446.25,161.7 446.75,161.7 446.75,152.4 447.25,152.4 447.25,141.7 447.75,141.7 447.75,130.6 448.25,130.6 448.25,117.8 448.75,117.8 448.75,104.8 449.25,104.8 449.25,93.4 449.75,93.4 449.75,88.3 450.25,88.3 450.25,98.3 450.75,98.3 450.75,110.9 451.25,110.9 451.25,122.8 451.75,122.8 451.75,135.9 452.25,135.9 452.25,146.0 452.75,146.0 452.75,156.2 453.25,156.2 453.25,164.4 453.75,164.4 453.75,173.1 454.25,173.1 454.25,181.9 454.75,181.9 454.75,189.5 455.25,189.5 455.25,196.1 455.75,196.1 455.75,201.7 456.25,201.7 456.25,204.5 456.75,204.5 456.75,204.9 457.25,204.9 457.25,202.8 457.75,202.8 457.75,210.6 458.25,210.6 458.25,207.4 458.75,207.4 458.75,210.8 459.25,210.8 459.25,209.2 459.75,209.2 459.75,208.4 460.25,208.4 460.25,211.1 460.75,211.1 460.75,208.7 461.25,208.7 461.25,213.4 461.75,213.4 461.75,206.7 462.25,206.7 462.25,209.6 462.75,209.6 462.75,206.1 463.25,206.1 463.25,206.0 463.75,206.0 463.75,210.3 464.25,210.3 464.25,205.4 464.75,205.4 464.75,202.2 465.25,202.2 465.25,196.3 465.75,196.3 465.75,191.3 466.25,191.3 466.25,184.0 466.75,184.0 466.75,177.7 467.25,177.7 467.25,167.1 467.75,167.1 467.75,158.1 468.25,158.1 468.25,149.4 468.75,149.4 468.75,138.6 469.25,138.6 469.25,127.1 469.75,127.1 469.75,113.2 470.25,113.2 470.25,99.5 470.75,99.5 470.75,88.6 471.25,88.6 471.25,86.5 471.75,86.5 471.75,97.6 472.25,97.6 472.25,111.1 472.75,111.1 472.75,123.5 473.25,123.5 473.25,136.7 473.75,136.7 473.75,147.4 474.25,147.4 474.25,157.1 474.75,157.1 474.75,165.8 475.25,165.8 475.25,174.5 475.75,174.5 475.75,182.3 476.25,182.3 476.25,191.2 476.75,191.2 476.75,199.4 477.25,199.4 477.25,202.1 477.75,202.1 477.75,205.0 478.25,205.0 478.25,207.6 478.75,207.6 478.75,208.7 479.25,208.7 479.25,208.2 479.75,208.2 479.75,212.1 480.25,212.1 480.25,211.9 480.75,211.9 480.75,213.4 481.25,213.4 481.25,210.0 481.75,210.0 481.75,209.8 482.25,209.8 482.25,205.5 482.75,205.5 482.75,212.7 483.25,212.7 483.25,210.0 483.75,210.0 483.75,205.8 484.25,205.8 484.25,207.2 484.75,207.2 484.75,206.3 485.25,206.3 485.25,201.1 485.75,201.1 485.75,203.7 486.25,203.7 486.25,203.5 486.75,203.5 486.75,196.2 487.25,196.2 487.25,186.5 487.75,186.5 487.75,178.8 488.25,178.8 488.25,171.9 488.75,171.9 488.75,162.6 489.25,162.6 489.25,152.1 489.75,152.1 489.75,141.5 490.25,141.5 490.25,130.2 490.75,130.2 490.75,116.8 491.25,116.8 491.25,103.3 491.75,103.3 491.75,91.3 492.25,91.3 492.25,81.2 492.75,81.2 492.75,90.7 493.25,90.7 493.25,103.7 493.75,103.7 493.75,117.8 494.25,117.8 494.25,130.1 494.75,130.1 494.75,141.4 495.25,141.4 495.25,151.5 495.75,151.5 495.75,163.4 496.25,163.4 496.25,168.8 496.75,168.8 496.75,180.2 497.25,180.2 497.25,185.8 497.75,185.8 497.75,192.6 498.25,192.6 498.25,199.8 498.75,199.8 498.75,202.8 499.25,202.8 499.25,206.6 499.75,206.6 499.75,204.4 500.25,204.4 500.25,208.2 500.75,208.2 500.75,213.0 501.25,213.0 501.25,202.4 501.75,202.4 501.75,207.8 502.25,207.8 502.25,206.0 502.75,206.0 502.75,212.8 503.25,212.8 503.25,206.9 503.75,206.9 503.75,206.0 504.25,206.0 504.25,205.4 504.75,205.4 504.75,208.0 505.25,208.0 505.25,209.5 505.75,209.5 505.75,206.3 506.25,206.3 506.25,209.0 506.75,209.0 506.75,206.6 507.25,206.6 507.25,201.8 507.75,201.8 507.75,196.9 508.25,196.9 508.25,188.7 508.75,188.7 508.75,181.5 509.25,181.5 509.25,172.1 509.75,172.1 509.75,164.7 510.25,164.7 510.25,156.8 510.75,156.8 510.75,146.4 511.25,146.4 511.25,136.5 511.75,136.5 511.75,124.4 512.25,124.4 512.25,111.5 512.75,111.5 512.75,100.5 513.25,100.5 513.25,91.2 513.75,91.2 513.75,100.5 514.25,100.5 514.25,111.8 514.75,111.8 514.75,123.7 515.25,123.7 515.25,136.5 515.75,136.5 515.75,146.9 516.25,146.9 516.25,157.3 516.75,157.3 516.75,166.4 517.25,166.4 517.25,174.8 517.75,174.8 517.75,179.9 518.25,179.9 518.25,185.6 518.75,185.6 518.75,194.7 519.25,194.7 519.25,203.2 519.75,203.2 519.75,202.1 520.25,202.1 520.25,205.4 520.75,205.4 520.75,204.3 521.25,204.3 521.00,220.0" fill="#000"/>
</g>
<g fill="none" stroke="#000" stroke-width="1" shape-rendering="crispEdges">
  <rect x="334.5" y="36.5" width="187" height="184"/>
  <path d="M522 219.5H527 M522 187.5H527 M522 156.5H527 M522 124.5H527 M522 93.5H527 M522 61.5H527"/>
  <path d="M342.5 221V225 M385.5 221V225 M427.5 221V225 M470.5 221V225 M513.5 221V225"/>
</g>
<g style="font-size:12px">
  <text x="530.5" y="223.6">0</text>
  <text x="530.5" y="192">25</text>
  <text x="530.5" y="160.4">50</text>
  <text x="530.5" y="128.8">75</text>
  <text x="530.5" y="97.2">100</text>
  <text x="530.5" y="64.6">125</text>
  <text x="342.5" y="238.5" text-anchor="middle">-40</text>
  <text x="385.5" y="238.5" text-anchor="middle">-20</text>
  <text x="427.5" y="238.5" text-anchor="middle">0</text>
  <text x="470.5" y="238.5" text-anchor="middle">20</text>
  <text x="513.5" y="238.5" text-anchor="middle">40</text>
</g>
<g style="font-size:12px">
  <text x="429.7" y="253.5" text-anchor="middle">τ (ns)</text>
  <text transform="translate(569.2,138) rotate(-90)" text-anchor="middle" style="font-size:12.3px">Coincidences</text>
  <text x="337.6" y="49.4" style="font-size:12.8px">(b)</text>
</g>
<!-- red annotation -->
<rect x="396.5" y="40.5" width="63" height="17.5" fill="#fff" stroke="#d63a3a" stroke-width="1.1"/>
<text x="400.5" y="54.3" style="font-size:12.2px;fill:#d63a3a">g<tspan dy="-5.6" style="font-size:7.6px">(2)</tspan><tspan dy="5.6">(0)=0.3</tspan></text>
<line x1="430.7" y1="58" x2="430.7" y2="80" stroke="#d63a3a" stroke-width="1.2"/>
<polygon points="428.4,78.5 433,78.5 430.7,85.5" fill="#d63a3a"/>
</svg>
</body></html>
